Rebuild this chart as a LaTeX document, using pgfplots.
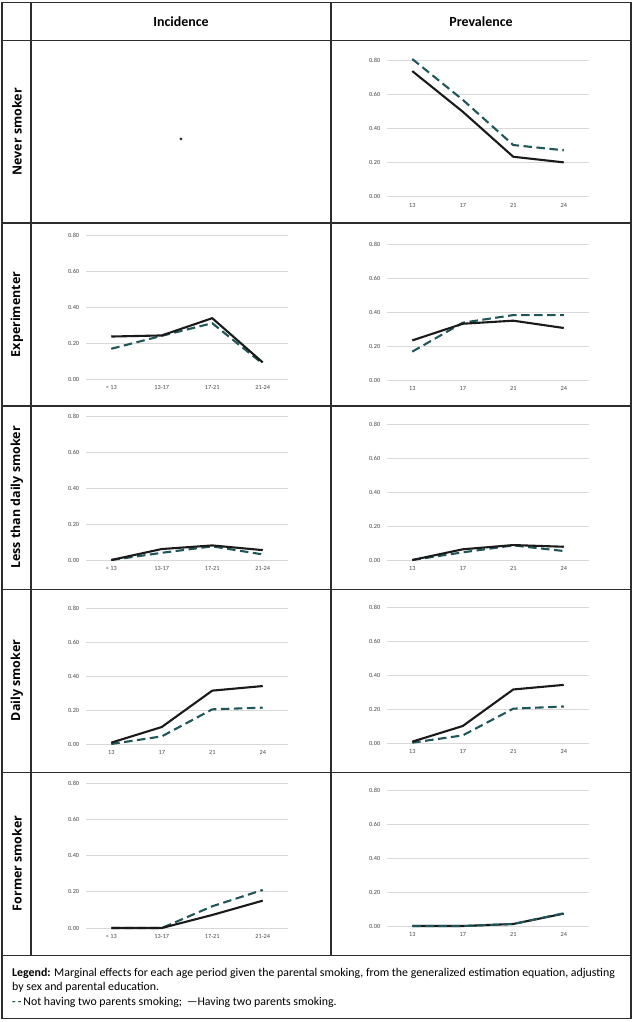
\documentclass[border=0pt]{standalone}
\usepackage{fontspec}
\setmainfont{Carlito}
\newfontfamily\rowfont{Open Sans}
\usepackage{pgfplots}
\pgfplotsset{compat=1.18}
\definecolor{tealdash}{RGB}{33,86,89}
\definecolor{solidblk}{RGB}{26,26,26}
\definecolor{gridgray}{RGB}{217,217,217}
\definecolor{tickgray}{RGB}{70,70,70}
\definecolor{rulegray}{RGB}{45,45,45}
\pgfplotsset{
  cell/.style={
    scale only axis, width=202bp,
    xmin=-0.5, xmax=3.5, ymin=0, ymax=0.8,
    axis line style={draw=none}, major tick length=0pt,
    ymajorgrids, grid style={line width=0.6bp, color=gridgray},
    ytick={0,0.2,0.4,0.6,0.8}, yticklabels={0.00,0.20,0.40,0.60,0.80},
    xtick={0,1,2,3},
    ticklabel style={font=\fontsize{6.3}{7}\selectfont, text=tickgray},
    yticklabel shift=3.3bp, xticklabel shift=3.3bp,
    clip=false, anchor=south west,
  },
  inc/.style={xticklabels={< 13,13-17,17-21,21-24}},
  prev/.style={xticklabels={13,17,21,24}},
  solidline/.style={solidblk, line width=2.1bp, line join=round, no markers},
  dashline/.style={tealdash, line width=2.1bp, dash pattern=on 8.5bp off 4.5bp, no markers},
}
\begin{document}
\begin{tikzpicture}
\begin{scope}[x=1bp,y=1bp]
\useasboundingbox (0,0) rectangle (633,-1022);
% table rules
\draw[rulegray, line width=1.6bp] (2,-2.5) rectangle (631,-1018.5);
\foreach \yy in {40.5,223,406,589.5,772.5,955.5}{
  \draw[rulegray, line width=1.4bp] (2,-\yy) -- (631,-\yy);
}
\draw[rulegray, line width=1.4bp] (31,-2.5) -- (31,-955.5);
\draw[rulegray, line width=1.4bp] (331,-2.5) -- (331,-955.5);
% headers
\node[font=\bfseries\fontsize{14}{16}\selectfont] at (181,-22) {Incidence};
\node[font=\bfseries\fontsize{14}{16}\selectfont] at (481,-22) {Prevalence};
% row labels
\foreach \yy/\txt in {131.75/Never smoker,314.5/Experimenter,497.5/Less than daily smoker,680.5/Daily smoker,863.5/Former smoker}{
  \node[rotate=90, font=\rowfont\bfseries\fontsize{12.5}{14}\selectfont] at (17,-\yy) {\txt};
}
% legend
\node[anchor=west, inner sep=0pt, align=left, font=\fontsize{11.9}{14.5}\selectfont] at (12,-987.5)
{\textbf{Legend:} Marginal effects for each age period given the parental smoking, from the generalized estimation equation, adjusting\\
by sex and parental education.\\
{\color{tealdash}\textbf{-\,-}}\,Not having two parents smoking; \,---Having two parents smoking.};
\end{scope}
% ---------- Row 1 ----------
\begin{axis}[cell, hide axis, height=144bp, at={(86bp,-196bp)}]
\addplot[only marks, mark=*, mark size=1.2bp, solidblk] coordinates {(1.38,0.317)};
\end{axis}
\begin{axis}[cell, prev, height=136bp, at={(387bp,-196.7bp)}]
\addplot[dashline] coordinates {(0,0.81) (1,0.57) (2,0.304) (3,0.273)};
\addplot[solidline] coordinates {(0,0.739) (1,0.50) (2,0.235) (3,0.202)};
\end{axis}
% ---------- Row 2 ----------
\begin{axis}[cell, inc, height=144bp, at={(86bp,-379bp)}]
\addplot[dashline] coordinates {(0,0.168) (1,0.24) (2,0.31) (3,0.085)};
\addplot[solidline] coordinates {(0,0.236) (1,0.242) (2,0.338) (3,0.092)};
\end{axis}
\begin{axis}[cell, prev, height=136bp, at={(387bp,-380bp)}]
\addplot[dashline] coordinates {(0,0.167) (1,0.337) (2,0.382) (3,0.382)};
\addplot[solidline] coordinates {(0,0.233) (1,0.331) (2,0.349) (3,0.306)};
\end{axis}
% ---------- Row 3 ----------
\begin{axis}[cell, inc, height=144bp, at={(86bp,-560bp)}]
\addplot[dashline] coordinates {(0,0) (1,0.04) (2,0.076) (3,0.031)};
\addplot[solidline] coordinates {(0,0) (1,0.061) (2,0.081) (3,0.055)};
\end{axis}
\begin{axis}[cell, prev, height=136bp, at={(387bp,-560bp)}]
\addplot[dashline] coordinates {(0,0) (1,0.045) (2,0.086) (3,0.053)};
\addplot[solidline] coordinates {(0,0) (1,0.063) (2,0.088) (3,0.078)};
\end{axis}
% ---------- Row 4 ----------
\begin{axis}[cell, prev, height=136bp, at={(86bp,-744bp)}]
\addplot[dashline] coordinates {(0,0) (1,0.045) (2,0.204) (3,0.214)};
\addplot[solidline] coordinates {(0,0.008) (1,0.10) (2,0.314) (3,0.341)};
\end{axis}
\begin{axis}[cell, prev, height=136bp, at={(387bp,-743bp)}]
\addplot[dashline] coordinates {(0,0.002) (1,0.045) (2,0.202) (3,0.215)};
\addplot[solidline] coordinates {(0,0.008) (1,0.10) (2,0.315) (3,0.342)};
\end{axis}
% ---------- Row 5 ----------
\begin{axis}[cell, inc, height=145bp, at={(86bp,-928bp)}]
\addplot[dashline] coordinates {(0,0) (1,0) (2,0.12) (3,0.21)};
\addplot[solidline] coordinates {(0,0) (1,0) (2,0.072) (3,0.151)};
\end{axis}
\begin{axis}[cell, prev, height=136bp, at={(387bp,-926bp)}]
\addplot[solidline] coordinates {(0,0) (1,0) (2,0.012) (3,0.073)};
\addplot[dashline] coordinates {(0,0) (1,0) (2,0.012) (3,0.075)};
\end{axis}
\end{tikzpicture}
\end{document}
